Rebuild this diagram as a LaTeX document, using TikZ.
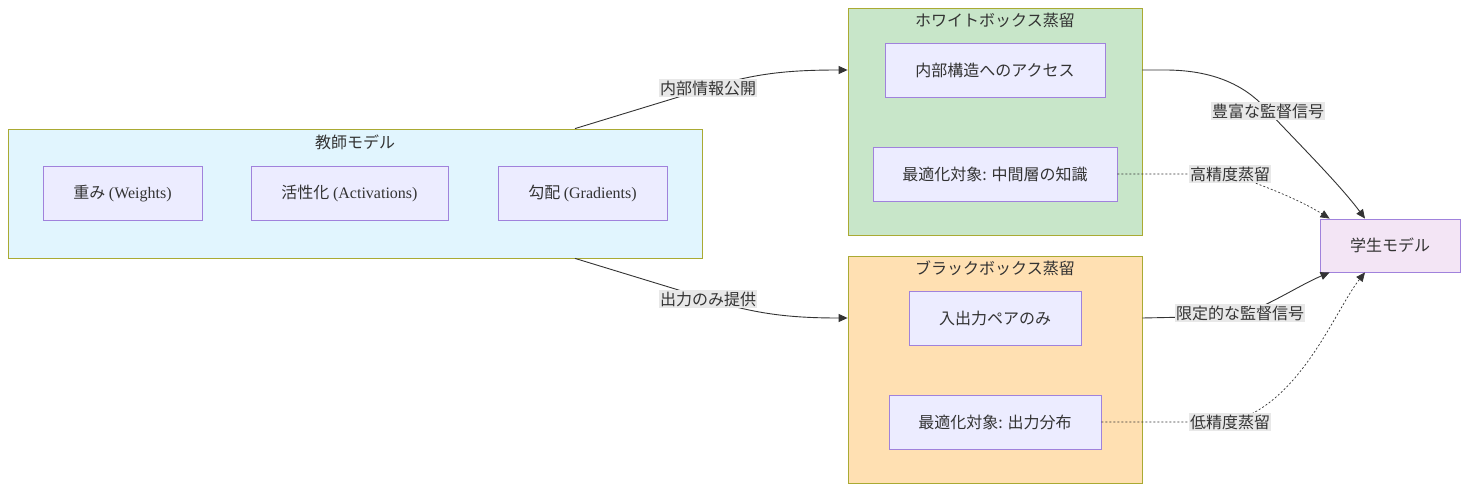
\documentclass[tikz,border=0pt]{standalone}
\usepackage{fontspec}
\setmainfont{Liberation Serif}
\newfontfamily\cjk{Noto Sans CJK JP}
\usetikzlibrary{arrows.meta, positioning}
\definecolor{clrTeach}  {RGB}{225,245,254}
\definecolor{clrWhite}  {RGB}{200,230,201}
\definecolor{clrBlack}  {RGB}{255,224,178}
\definecolor{clrStud}   {RGB}{243,229,245}
\definecolor{clrNode}   {RGB}{236,236,255}
\definecolor{clrNodeBdr}{RGB}{160,130,220}
\definecolor{clrClusBdr}{RGB}{170,170, 51}
\definecolor{clrEdge}   {RGB}{ 51, 51, 51}
\definecolor{clrLbl}    {RGB}{232,232,232}
\tikzset{
  clusbox/.style={rectangle, draw=clrClusBdr, line width=0.8pt, inner sep=0pt},
  clustitle/.style={font=\cjk\fontsize{16}{19}\selectfont, text=clrEdge, inner sep=0pt},
  itemnode/.style={rectangle, draw=clrNodeBdr, fill=clrNode, line width=0.9pt,
    font=\cjk\fontsize{16}{19}\selectfont, text=clrEdge, minimum height=54pt, inner sep=0pt},
  studnode/.style={rectangle, draw=clrNodeBdr, fill=clrStud, line width=0.9pt,
    font=\cjk\fontsize{16}{19}\selectfont, text=clrEdge, minimum width=140pt,
    minimum height=53pt, inner sep=0pt},
  arr/.style={-{Triangle[length=9pt,width=8pt]}, line width=0.9pt, color=clrEdge},
  dotarr/.style={arr, line width=0.7pt, dash pattern=on 2pt off 2pt},
  edgelbl/.style={font=\cjk\fontsize{16}{19}\selectfont, text=clrEdge, fill=clrLbl,
    inner xsep=1pt, inner ysep=2pt},
}
\begin{document}
\begin{tikzpicture}[x=1pt,y=-1pt]
\useasboundingbox (0,0) rectangle (1468,492);
% clusters
\node[clusbox, fill=clrTeach, minimum width=694pt, minimum height=129pt] (teacher) at (355,193.5) {};
\node[clusbox, fill=clrWhite, minimum width=294pt, minimum height=227pt] (white) at (995,121.5) {};
\node[clusbox, fill=clrBlack, minimum width=294pt, minimum height=227pt] (black) at (995,369.5) {};
\node[clustitle] (teachT) at (355,142) {教師モデル};
\node[clustitle] (whiteT) at (995,20) {ホワイトボックス蒸留};
\node[clustitle] (blackT) at (995,268) {ブラックボックス蒸留};
% teacher parts
\node[itemnode, minimum width=159pt] (weights) at (122.5,193.5) {重み {\rmfamily (Weights)}};
\node[itemnode, minimum width=197pt] (activ) at (349.5,193.5) {活性化 {\rmfamily (Activations)}};
\node[itemnode, minimum width=169pt] (grads) at (582.5,193.5) {勾配 {\rmfamily (Gradients)}};
% white / black box parts
\node[itemnode, minimum width=220pt] (access) at (995,70) {内部構造へのアクセス};
\node[itemnode, minimum width=244pt] (midopt) at (995,174) {最適化対象: 中間層の知識};
\node[itemnode, minimum width=172pt] (pairs) at (995,318) {入出力ペアのみ};
\node[itemnode, minimum width=212pt] (outopt) at (995,422) {最適化対象: 出力分布};
% student
\node[studnode] (student) at (1390,245.5) {学生モデル};
% edges
\draw[arr] ([xshift=220pt]teacher.north) -- (708,88) .. controls (755,73) and (790,70) .. (white.west |- access);
\draw[arr] ([xshift=220pt]teacher.south) -- (708,299) .. controls (755,314) and (790,318) .. (black.west |- pairs);
\draw[arr] (white.east |- access) -- (1165,70) .. controls (1220,70) and (1250,90) .. (1268,111)
  .. controls (1300,145) and (1340,185) .. ([xshift=-25pt]student.north);
\draw[dotarr] (midopt.east) -- (1230,174) .. controls (1265,186) and (1300,200) .. ([xshift=10pt]student.north west);
\draw[arr] (black.east |- pairs) -- (1240,316) .. controls (1275,302) and (1300,285) .. ([xshift=10pt]student.south west);
\draw[dotarr] (outopt.east) -- (1230,422) .. controls (1300,405) and (1335,310) .. ([xshift=-25pt]student.south);
% edge labels
\node[edgelbl] (l1) at (708,88) {内部情報公開};
\node[edgelbl] (l2) at (708,299) {出力のみ提供};
\node[edgelbl] (l3) at (1268,111) {豊富な監督信号};
\node[edgelbl] (l4) at (1230,174) {高精度蒸留};
\node[edgelbl] (l5) at (1240,313) {限定的な監督信号};
\node[edgelbl] (l6) at (1230,422) {低精度蒸留};
\end{tikzpicture}
\end{document}
